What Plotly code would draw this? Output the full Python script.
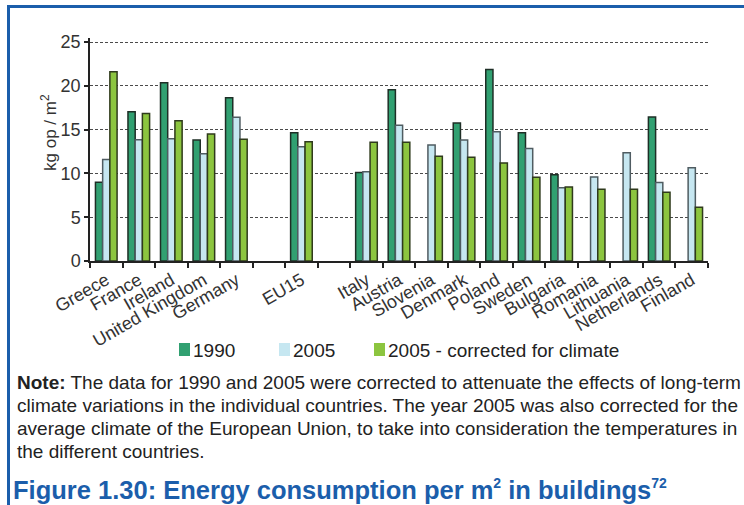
import plotly.graph_objects as go

# Energy consumption per m2 in buildings (kg oil-equivalent per m2)
countries = ["Greece", "France", "Ireland", "United Kingdom", "Germany", " ",
             "EU15", "  ", "Italy", "Austria", "Slovenia", "Denmark", "Poland",
             "Sweden", "Bulgaria", "Romania", "Lithuania", "Netherlands", "Finland"]
y1990 = [9.0, 17.05, 20.35, 13.8, 18.65, None, 14.65, None, 10.1, 19.55, None,
         15.75, 21.85, 14.65, 9.85, None, None, 16.45, None]
y2005 = [11.6, 13.85, 13.95, 12.25, 16.4, None, 13.05, None, 10.2, 15.5, 13.25,
         13.8, 14.75, 12.85, 8.35, 9.6, 12.35, 8.95, 10.65]
y2005_climate = [21.6, 16.85, 16.0, 14.5, 13.9, None, 13.6, None, 13.55, 13.55,
                 11.95, 11.85, 11.2, 9.55, 8.45, 8.2, 8.2, 7.85, 6.15]
y_ticks = [0, 5, 10, 15, 20, 25]

series_names = ["1990", "2005", "2005 - corrected for climate"]
fill_colors = ["#31a071", "#c6e7f1", "#8cc53f"]
edge_colors = ["#1e2e26", "#4f5c61", "#2f3a1c"]

note_lines = [
    "<b>Note:</b> The data for 1990 and 2005 were corrected to attenuate the effects of long-term",
    "climate variations in the individual countries. The year 2005 was also corrected for the",
    "average climate of the European Union, to take into consideration the temperatures in",
    "the different countries.",
]
SUP = "<sup><span style='font-size:14px'>{}</span></sup>"
title_text = ("Figure 1.30: Energy consumption per m" + SUP.format("2")
              + " in buildings" + SUP.format("72"))

W, H = 744, 505
L, R, T, B = 90, 36, 38, 244
PW, PH = W - L - R, H - T - B
Y_TOP = PH / 8.76  # value range shown by the plot area

TEXT_FONT = "Liberation Sans, Arial, sans-serif"
AXIS_FONT = "Liberation Sans, Arial, sans-serif"
BLUE = "#1b5eab"


def px(x):
    return (x - L) / PW


def py(y):
    return (H - B - y) / PH


fig = go.Figure()
for vals, name, fc, ec in zip([y1990, y2005, y2005_climate], series_names,
                              fill_colors, edge_colors):
    fig.add_trace(go.Bar(
        x=countries, y=vals, name=name,
        marker=dict(color=fc, line=dict(color=ec, width=1.5)),
        showlegend=False,
    ))

shapes = [
    # frame: blue rule along the left and top edges
    dict(type="line", xref="paper", yref="paper", x0=px(8.5), x1=px(8.5),
         y0=py(5), y1=py(H + 5), line=dict(color=BLUE, width=3)),
    dict(type="line", xref="paper", yref="paper", x0=px(7), x1=px(W + 5),
         y0=py(6.5), y1=py(6.5), line=dict(color=BLUE, width=3)),
]
annotations = [
    dict(text="kg op / m<sup>2</sup>", x=px(49), y=py(133), xref="paper", yref="paper",
         showarrow=False, textangle=-90, font=dict(family=AXIS_FONT, size=17, color="#333"),
         xanchor="center", yanchor="middle"),
]

# legend drawn as swatches and labels under the axis
legend_x = [179, 279, 374]
for lx, name, fc in zip(legend_x, series_names, fill_colors):
    shapes.append(dict(type="rect", xref="paper", yref="paper",
                       x0=px(lx), x1=px(lx + 11), y0=py(356), y1=py(343),
                       fillcolor=fc, line=dict(width=0)))
    annotations.append(dict(text=name, x=px(lx + 12), y=py(350), xref="paper", yref="paper",
                            showarrow=False, xanchor="left", yanchor="middle",
                            font=dict(family=TEXT_FONT, size=19, color="#222")))

for i, line in enumerate(note_lines):
    annotations.append(dict(text=line, x=px(15), y=py(382 + i * 23), xref="paper", yref="paper",
                            showarrow=False, xanchor="left", yanchor="middle", align="left",
                            font=dict(family=TEXT_FONT, size=19, color="#222")))

annotations.append(dict(text=title_text, x=px(11), y=py(489), xref="paper", yref="paper",
                        showarrow=False, xanchor="left", yanchor="middle",
                        font=dict(family=TEXT_FONT, size=25.5, color=BLUE, weight="bold")))

fig.update_layout(
    width=W, height=H,
    margin=dict(l=L, r=R, t=T, b=B, autoexpand=False),
    paper_bgcolor="white", plot_bgcolor="white",
    barmode="group", bargap=0.335, bargroupgap=0,
    shapes=shapes, annotations=annotations,
    xaxis=dict(
        type="category", tickangle=-30, tickson="boundaries", ticks="outside",
        ticklen=5, tickwidth=1.5, tickcolor="#222",
        showline=True, linecolor="#222", linewidth=1.5, showgrid=False,
        tickfont=dict(family=AXIS_FONT, size=18, color="#333"),
    ),
    yaxis=dict(
        range=[0, Y_TOP], tickvals=y_ticks, ticks="outside", ticklen=4, tickwidth=1.5,
        tickcolor="#222", showline=True, linecolor="#222", linewidth=1.5,
        showgrid=True, gridcolor="#4a4a4a", gridwidth=1.3, griddash="3px,2px",
        zeroline=False, tickfont=dict(family=AXIS_FONT, size=18, color="#333"),
    ),
)

fig.write_html("out.html")
